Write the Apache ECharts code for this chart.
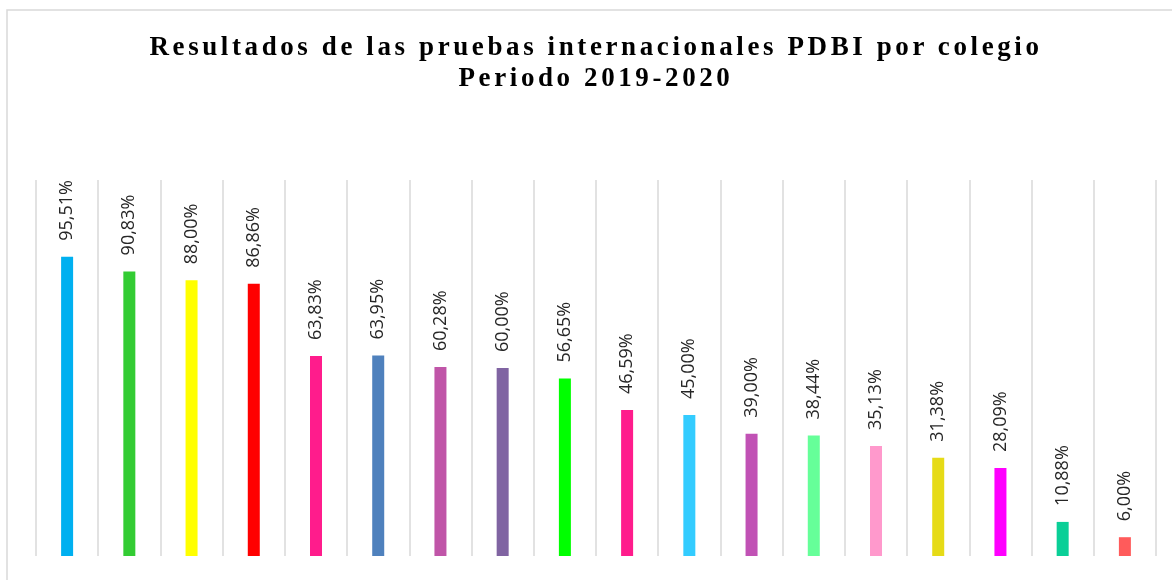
<!DOCTYPE html>
<html>
<head>
<meta charset="utf-8">
<script src="https://cdn.jsdelivr.net/npm/echarts@6/dist/echarts.min.js"></script>
<style>
  html, body { margin: 0; padding: 0; background: #fff; overflow: hidden; }
  .chartContent { position: relative; width: 1172px; height: 580px; }
  .chartTitle {
    position: absolute;
    left: 0;
    top: 31px;
    width: 1192px;
    text-align: center;
    font-family: "Liberation Serif", serif;
    font-weight: bold;
    font-size: 27px;
    line-height: 31px;
    letter-spacing: 3.6px;
    color: #000;
    z-index: 2;
  }
  #chart { width: 1172px; height: 580px; }
</style>
</head>
<body>
<div class="chartContent">
  <div class="chartTitle">Resultados de las pruebas internacionales PDBI por colegio<br>Periodo 2019-2020</div>
  <div id="chart"></div>
</div>
<script>
// colegios (los nombres no se ven en la imagen)
var categories = ['Colegio 1', 'Colegio 2', 'Colegio 3', 'Colegio 4', 'Colegio 5', 'Colegio 6',
  'Colegio 7', 'Colegio 8', 'Colegio 9', 'Colegio 10', 'Colegio 11', 'Colegio 12',
  'Colegio 13', 'Colegio 14', 'Colegio 15', 'Colegio 16', 'Colegio 17', 'Colegio 18'];
// resultado PDBI en %
var values = [95.51, 90.83, 88.00, 86.86, 63.83, 63.95, 60.28, 60.00, 56.65,
  46.59, 45.00, 39.00, 38.44, 35.13, 31.38, 28.09, 10.88, 6.00];
var barColors = ['#00B0F0', '#33CC33', '#FFFF00', '#FF0000', '#FF1C8C', '#4F81BD',
  '#C055A8', '#8064A2', '#00FF00', '#FF1C8C', '#33CCFF', '#C152B5',
  '#66FF99', '#FF99CC', '#E6DB17', '#FF00FF', '#0ACF97', '#FF5B5B'];

var myChart = echarts.init(document.getElementById('chart'));
var option = {
  animation: false,
  graphic: [{
    type: 'rect',
    shape: { x: 7, y: 10, width: 1200, height: 620 },
    style: { fill: 'none', stroke: '#d9d9d9', lineWidth: 1.5 },
    silent: true
  }],
  grid: {
    left: 36,
    right: 16,
    top: 180,
    bottom: 24
  },
  xAxis: {
    type: 'category',
    data: categories,
    axisLine: { show: false },
    axisTick: { show: false, interval: 0 },
    axisLabel: { show: false },
    splitLine: {
      show: true,
      interval: 0,
      lineStyle: { color: '#d9d9d9', width: 1.5 }
    }
  },
  yAxis: {
    type: 'value',
    min: 0,
    max: 120,
    show: false
  },
  series: [{
    type: 'bar',
    barWidth: 12,
    data: values.map(function (v, i) {
      return { value: v, itemStyle: { color: barColors[i] } };
    }),
    label: {
      show: true,
      position: 'top',
      rotate: 90,
      align: 'left',
      verticalAlign: 'middle',
      distance: 16,
      fontFamily: 'Open Sans',
      fontSize: 18,
      color: '#262626',
      formatter: function (p) {
        return p.value.toFixed(2).replace('.', ',') + '%';
      }
    }
  }]
};
myChart.setOption(option);
</script>
</body>
</html>
